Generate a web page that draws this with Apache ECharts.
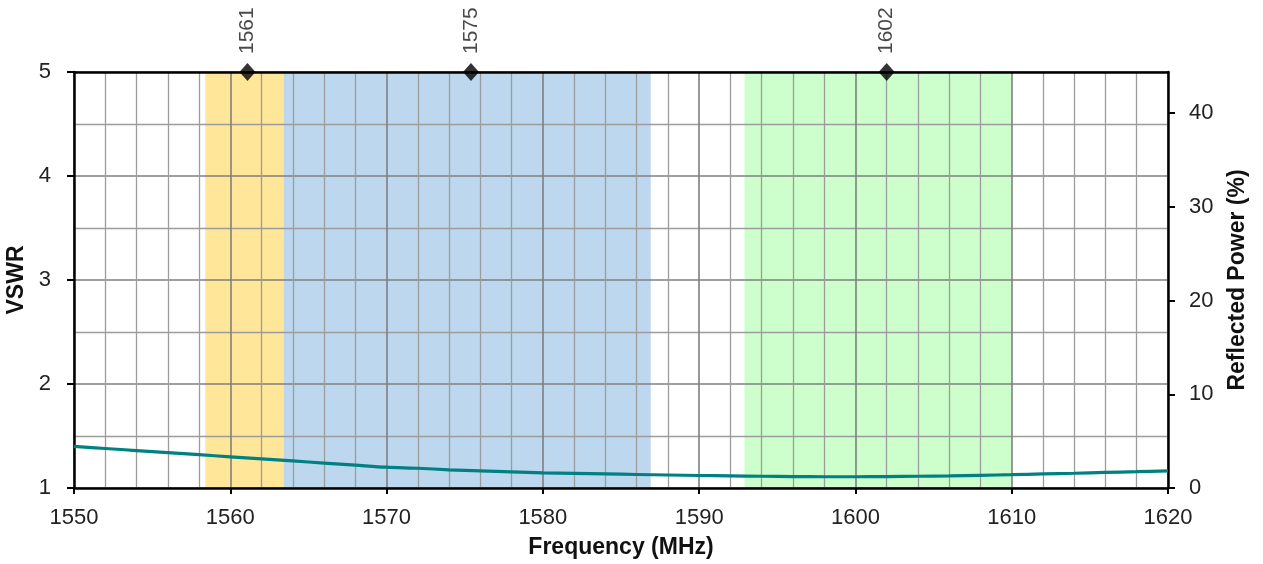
<!DOCTYPE html>
<html>
<head>
<meta charset="utf-8">
<script src="https://cdn.jsdelivr.net/npm/echarts@6/dist/echarts.min.js"></script>
<style>html,body{margin:0;padding:0;background:#fff}#c{width:1263px;height:564px}</style>
</head>
<body>
<div id="c"></div>
<script>
// ---- data ----
const freqs = [1550,1552,1554,1556,1558,1560,1562,1564,1566,1568,1570,1572,1574,1576,1578,1580,1582,1584,1586,1588,1590,1592,1594,1596,1598,1600,1602,1604,1606,1608,1610,1612,1614,1616,1618,1620];
const vswr  = [1.40,1.38,1.36,1.34,1.32,1.30,1.28,1.26,1.24,1.22,1.20,1.19,1.175,1.165,1.155,1.145,1.14,1.135,1.13,1.125,1.12,1.117,1.113,1.11,1.108,1.108,1.11,1.113,1.117,1.122,1.128,1.135,1.142,1.15,1.157,1.165];
const bandStart = [1558.4, 1563.4, 1592.9];
const bandEnd   = [1563.4, 1586.9, 1610.0];
const bandColors = ['#FFE699', '#BDD7EE', '#CCFFCC'];
const markerFreq = [1561.1, 1575.4, 1602.0];
const markerLabels = ['1561', '1575', '1602'];
const vswrTicks = [1, 2, 3, 4, 5];
const powerTicks = [0, 10, 20, 30, 40];
const powerMax = 44.4;

const FONT = 'Liberation Sans';
const chart = echarts.init(document.getElementById('c'), null, {renderer: 'canvas'});

const lineData = freqs.map((f, i) => [f, vswr[i]]);
const areas = bandStart.map((s, i) => [
  {xAxis: s, itemStyle: {color: bandColors[i]}},
  {xAxis: bandEnd[i]}
]);
const markers = markerFreq.map((f, i) => ({value: [f, 5], label: {formatter: markerLabels[i]}}));

const titleStyle = {fontFamily: FONT, fontSize: 23, fontWeight: 'bold', color: '#111'};
const tickStyle = {fontFamily: FONT, fontSize: 22, color: '#222'};
const majorGrid = {color: '#7f7f7f', width: 1.6};
const minorGrid = {color: '#9c9c9c', width: 1.3};

chart.setOption({
  animation: false,
  grid: {left: 74, right: 95, top: 72, bottom: 76, outerBoundsMode: 'none', containLabel: false},
  xAxis: [{
    type: 'value', min: 1550, max: 1620, interval: 10, position: 'bottom',
    name: 'Frequency (MHz)', nameLocation: 'middle', nameGap: 48,
    nameTextStyle: titleStyle,
    axisLine: {show: true, onZero: false, lineStyle: {color: '#000', width: 2.5}},
    axisTick: {show: true, length: 6, lineStyle: {color: '#000', width: 2}},
    axisLabel: Object.assign({margin: 19, formatter: v => String(v)}, tickStyle),
    splitLine: {show: true, lineStyle: majorGrid},
    minorTick: {show: false, splitNumber: 5},
    minorSplitLine: {show: true, lineStyle: minorGrid}
  }, {
    type: 'value', min: 1550, max: 1620, position: 'top',
    axisLine: {show: true, onZero: false, lineStyle: {color: '#000', width: 2.5}},
    axisTick: {show: false}, axisLabel: {show: false}, splitLine: {show: false}
  }],
  yAxis: [{
    type: 'value', min: 1, max: 5, interval: 1, position: 'left',
    name: 'VSWR', nameLocation: 'middle', nameGap: 38,
    nameTextStyle: titleStyle,
    axisLine: {show: true, onZero: false, lineStyle: {color: '#000', width: 2.5}},
    axisTick: {show: true, length: 7, lineStyle: {color: '#000', width: 2}},
    axisLabel: Object.assign({margin: 23, customValues: vswrTicks}, tickStyle),
    splitLine: {show: true, lineStyle: majorGrid},
    minorTick: {show: false, splitNumber: 2},
    minorSplitLine: {show: true, lineStyle: minorGrid}
  }, {
    type: 'value', min: 0, max: powerMax, interval: 10, position: 'right',
    name: 'Reflected Power (%)', nameLocation: 'middle', nameGap: 58, nameRotate: 90,
    nameTextStyle: titleStyle,
    axisLine: {show: true, onZero: false, lineStyle: {color: '#000', width: 2.5}},
    axisTick: {show: true, length: 7, lineStyle: {color: '#000', width: 2}, customValues: powerTicks},
    axisLabel: Object.assign({margin: 21, customValues: powerTicks}, tickStyle),
    splitLine: {show: false}
  }],
  series: [{
    type: 'line', data: [], z: 0, silent: true,
    markArea: {silent: true, z: -1, data: areas}
  }, {
    type: 'line', data: lineData, smooth: 0.3, showSymbol: false, z: 3,
    lineStyle: {color: '#008080', width: 3.2}, itemStyle: {color: '#008080'}
  }, {
    type: 'scatter', data: markers, symbol: 'diamond', symbolSize: [16, 18], z: 5, clip: false,
    itemStyle: {color: '#000'},
    label: {show: true, position: 'top', rotate: 90, align: 'left', verticalAlign: 'middle',
      distance: 9, fontFamily: FONT, fontSize: 21, color: '#1a1a1a'}
  }]
});
</script>
</body>
</html>
